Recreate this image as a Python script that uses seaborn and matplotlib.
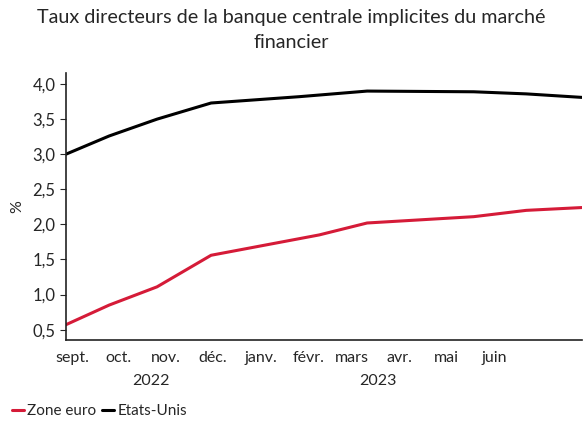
import numpy as np
import pandas as pd
import matplotlib
matplotlib.use("Agg")
import matplotlib.pyplot as plt
import matplotlib.dates as mdates
import matplotlib.transforms as mtransforms
from matplotlib.ticker import FuncFormatter
import seaborn as sns

# ========== données ==========
euro_dates = ["2022-09-11", "2022-10-09", "2022-11-09", "2022-12-14", "2023-02-22",
              "2023-03-25", "2023-06-02", "2023-07-06", "2023-08-11"]
euro_values = [0.57, 0.85, 1.11, 1.56, 1.85, 2.02, 2.11, 2.20, 2.24]

us_dates = ["2022-09-11", "2022-10-09", "2022-11-09", "2022-12-14", "2023-02-09",
            "2023-03-25", "2023-06-02", "2023-07-06", "2023-08-11"]
us_values = [3.00, 3.26, 3.50, 3.73, 3.82, 3.90, 3.89, 3.86, 3.81]

series_names = ["Zone euro", "Etats-Unis"]
series_colors = ["#d51b38", "black"]

month_labels = ["sept.", "oct.", "nov.", "déc.", "janv.", "févr.",
                "mars", "avr.", "mai", "juin"]
month_starts = pd.date_range("2022-09-01", "2023-06-01", freq="MS")
year_labels = ["2022", "2023"]
year_centers = ["2022-11-05", "2023-04-01"]

title = "Taux directeurs de la banque centrale implicites du marché\nfinancier"

# ========== tableau long ==========
df = pd.concat([
    pd.DataFrame({"date": pd.to_datetime(euro_dates), "taux": euro_values,
                  "serie": series_names[0]}),
    pd.DataFrame({"date": pd.to_datetime(us_dates), "taux": us_values,
                  "serie": series_names[1]}),
])

sns.set_style("white")
plt.rcParams["font.family"] = ["Lato", "DejaVu Sans"]

fig = plt.figure(figsize=(5.83, 4.21), dpi=100)
ax = fig.add_axes([0.113, 0.192, 0.885, 0.635])

sns.lineplot(data=df, x="date", y="taux", hue="serie", hue_order=series_names,
             palette=dict(zip(series_names, series_colors)), linewidth=2.2,
             ax=ax, legend=True)

# axes
ax.set_xlim(pd.Timestamp("2022-09-11"), pd.Timestamp("2023-08-11"))
ax.set_ylim(0.35, 4.16)
ax.set_yticks(np.arange(0.5, 4.01, 0.5))
ax.yaxis.set_major_formatter(FuncFormatter(lambda v, p: f"{v:.1f}".replace(".", ",")))
ax.set_ylabel("%", fontsize=11.5, labelpad=6)
ax.set_xlabel("")

# graduations : traits au 1er du mois, libellés au 15
ax.set_xticks(month_starts[1:].tolist() + [pd.Timestamp("2023-07-01")])
ax.set_xticklabels([])
label_pos = [d + pd.Timedelta(days=14) for d in month_starts]
ax.set_xticks(label_pos, minor=True)
ax.set_xticklabels(month_labels, minor=True)
ax.tick_params(axis="x", which="minor", length=0, labelsize=11.5, pad=8)
ax.tick_params(axis="x", which="major", length=4, width=0.8, color="#333333", direction="out")
ax.tick_params(axis="y", length=4, width=0.8, labelsize=12, direction="out", left=True)

for side in ["top", "right"]:
    ax.spines[side].set_visible(False)
for side in ["left", "bottom"]:
    ax.spines[side].set_color("#222222")
    ax.spines[side].set_linewidth(1.2)

# années sous les mois
trans = mtransforms.blended_transform_factory(ax.transData, fig.transFigure)
for lab, c in zip(year_labels, year_centers):
    ax.text(mdates.date2num(pd.Timestamp(c)), 1 - 381 / 421, lab, transform=trans,
            ha="center", va="center", fontsize=11.5)

# titre
fig.suptitle(title, x=0.5, y=1 - 9 / 421, fontsize=14.2, linespacing=1.55, va="top")

# légende en bas à gauche
sns.move_legend(ax, "center left", bbox_to_anchor=(0.02, 1 - 411 / 421),
                bbox_transform=fig.transFigure, ncol=2, frameon=False, title=None,
                handlelength=0.8, handletextpad=0.2, columnspacing=0.4, fontsize=11,
                borderaxespad=0, borderpad=0)

fig.savefig("out.png", dpi=100)
